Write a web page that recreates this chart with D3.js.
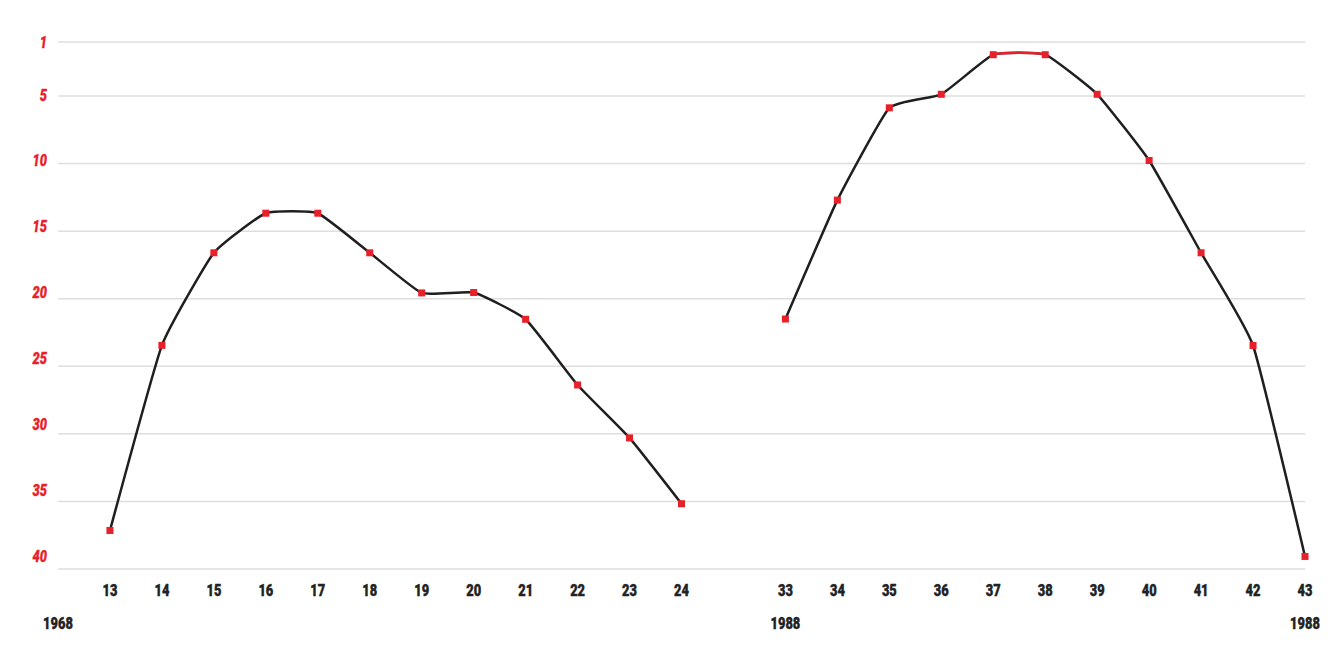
<!DOCTYPE html>
<html><head><meta charset="utf-8">
<script src="https://cdn.jsdelivr.net/npm/d3@7"></script>
<style>
html,body{margin:0;padding:0;background:#fff;}
svg text{font-family:Roboto,"DejaVu Sans",sans-serif;font-weight:900;}
</style></head>
<body>
<svg id="chart" width="1333" height="666"></svg>
<script>
// Data
const leftCategories = [13,14,15,16,17,18,19,20,21,22,23,24];
const leftValues = [37.15,23.45,16.6,13.67,13.67,16.6,19.57,19.54,21.52,26.38,30.3,35.17];
const rightCategories = [33,34,35,36,37,38,39,40,41,42,43];
const rightValues = [21.5,12.7,5.87,4.87,1.94,1.94,4.87,9.77,16.6,23.46,39.07];
const yTicks = [1,5,10,15,20,25,30,35,40];
const yearLabels = ["1968","1988","1988"];
const yearLabelSlots = [-1, 13, 23];
const highlightSegment = [37,38];

const svg = d3.select("#chart");
const SX = 0.78;

// slot index: left categories 0..11, gap at 12, right categories 13..23
const slotOf = c => leftCategories.includes(c) ? leftCategories.indexOf(c) : leftCategories.length + 1 + rightCategories.indexOf(c);
const x = d3.scaleLinear().domain([-1, 23]).range([58, 1305]);
const y = d3.scaleLinear().domain([1, 40]).range([42, 569]);
const yLabel = d3.scaleLinear().domain([1, 40]).range([42, 556]);

// gridlines
svg.append("g").selectAll("line").data(yTicks).join("line")
  .attr("x1", x(-1)).attr("x2", x(23))
  .attr("y1", d => y(d)).attr("y2", d => y(d))
  .attr("stroke", "#dedede").attr("stroke-width", 1.5);

// y axis labels
svg.append("g").selectAll("text").data(yTicks).join("text")
  .attr("transform", d => `translate(47,${yLabel(d)}) scale(${SX},1)`)
  .attr("dy", "0.35em").attr("text-anchor", "end")
  .attr("fill", "#e8202a").attr("stroke", "#e8202a").attr("stroke-width", 0.3)
  .attr("font-size", 16.5).attr("font-style", "italic")
  .text(d => d);

// x axis labels
const allCats = leftCategories.concat(rightCategories);
svg.append("g").selectAll("text").data(allCats).join("text")
  .attr("transform", d => `translate(${x(slotOf(d))},596) scale(${SX},1)`)
  .attr("text-anchor", "middle").attr("font-size", 16.5)
  .attr("fill", "#222").attr("stroke", "#222").attr("stroke-width", 0.4)
  .text(d => d);

// year labels
svg.append("g").selectAll("text").data(yearLabels).join("text")
  .attr("transform", (d, i) => `translate(${x(yearLabelSlots[i])},629) scale(${SX},1)`)
  .attr("text-anchor", "middle").attr("font-size", 16.5)
  .attr("fill", "#222").attr("stroke", "#222").attr("stroke-width", 0.4)
  .text(d => d);

const line = d3.line().x(d => x(slotOf(d.c))).y(d => y(d.v)).curve(d3.curveCardinal.tension(0.6));
const series = [
  leftCategories.map((c, i) => ({c, v: leftValues[i]})),
  rightCategories.map((c, i) => ({c, v: rightValues[i]}))
];

series.forEach(s => {
  svg.append("path").datum(s).attr("d", line)
    .attr("fill", "none").attr("stroke", "#1f1f1f").attr("stroke-width", 2.5)
    .attr("stroke-linejoin", "round");
  const hl = s.filter(d => highlightSegment.includes(d.c));
  if (hl.length === 2) {
    const i0 = s.indexOf(hl[0]);
    const ctx = s.slice(Math.max(0, i0 - 1), Math.min(s.length, i0 + 3));
    svg.append("clipPath").attr("id", "hlclip").append("rect")
      .attr("x", x(slotOf(hl[0].c))).attr("y", 0)
      .attr("width", x(slotOf(hl[1].c)) - x(slotOf(hl[0].c))).attr("height", 666);
    svg.append("path").datum(ctx).attr("d", line).attr("clip-path", "url(#hlclip)")
      .attr("fill", "none").attr("stroke", "#e8202a").attr("stroke-width", 2.5);
  }
  svg.append("g").selectAll("rect").data(s).join("rect")
    .attr("x", d => x(slotOf(d.c)) - 3.5).attr("y", d => y(d.v) - 3.5)
    .attr("width", 7).attr("height", 7).attr("fill", "#e8202a");
});
</script>
</body></html>
